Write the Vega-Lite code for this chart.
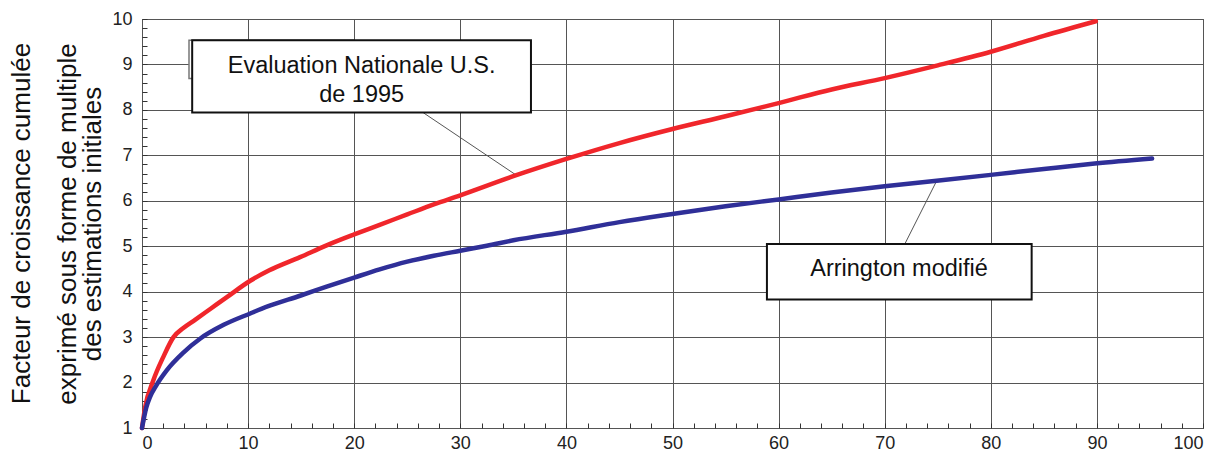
{
  "$schema": "https://vega.github.io/schema/vega-lite/v6.json",
  "width": 1061,
  "height": 409,
  "autosize": {"type": "none"},
  "padding": {"left": 142, "top": 19, "right": 18, "bottom": 22},
  "background": "white",
  "config": {
    "font": "Liberation Sans",
    "view": {"stroke": "#444", "strokeWidth": 1},
    "axis": {
      "labelFont": "Liberation Sans",
      "labelFontSize": 18,
      "labelColor": "#222",
      "labelOverlap": false,
      "titleFont": "Liberation Sans",
      "titleColor": "#111",
      "titleFontWeight": "normal",
      "domain": false,
      "gridColor": "#555",
      "gridWidth": 1,
      "ticks": true,
      "tickColor": "#333",
      "tickWidth": 1
    }
  },
  "title": {
    "text": "Facteur de croissance cumulée",
    "orient": "left",
    "anchor": "middle",
    "font": "Liberation Sans",
    "fontSize": 26,
    "fontWeight": "normal",
    "color": "#111",
    "offset": 20
  },
  "datasets": {
    "curves": [
      {"serie": "Evaluation Nationale U.S. de 1995", "annees": 0, "facteur": 1.0},
      {"serie": "Evaluation Nationale U.S. de 1995", "annees": 0.3, "facteur": 1.46},
      {"serie": "Evaluation Nationale U.S. de 1995", "annees": 1.07, "facteur": 2.05},
      {"serie": "Evaluation Nationale U.S. de 1995", "annees": 2.0, "facteur": 2.56},
      {"serie": "Evaluation Nationale U.S. de 1995", "annees": 2.97, "facteur": 3.0},
      {"serie": "Evaluation Nationale U.S. de 1995", "annees": 3.9, "facteur": 3.2},
      {"serie": "Evaluation Nationale U.S. de 1995", "annees": 5.0, "facteur": 3.38},
      {"serie": "Evaluation Nationale U.S. de 1995", "annees": 6.5, "facteur": 3.63},
      {"serie": "Evaluation Nationale U.S. de 1995", "annees": 8.0, "facteur": 3.88},
      {"serie": "Evaluation Nationale U.S. de 1995", "annees": 10.2, "facteur": 4.24},
      {"serie": "Evaluation Nationale U.S. de 1995", "annees": 12.0, "facteur": 4.47},
      {"serie": "Evaluation Nationale U.S. de 1995", "annees": 14.9, "facteur": 4.76},
      {"serie": "Evaluation Nationale U.S. de 1995", "annees": 17.4, "facteur": 5.02},
      {"serie": "Evaluation Nationale U.S. de 1995", "annees": 20.0, "facteur": 5.26},
      {"serie": "Evaluation Nationale U.S. de 1995", "annees": 22.4, "facteur": 5.47},
      {"serie": "Evaluation Nationale U.S. de 1995", "annees": 25.0, "facteur": 5.7},
      {"serie": "Evaluation Nationale U.S. de 1995", "annees": 27.5, "facteur": 5.92},
      {"serie": "Evaluation Nationale U.S. de 1995", "annees": 30.0, "facteur": 6.12},
      {"serie": "Evaluation Nationale U.S. de 1995", "annees": 35.0, "facteur": 6.54},
      {"serie": "Evaluation Nationale U.S. de 1995", "annees": 40.0, "facteur": 6.92},
      {"serie": "Evaluation Nationale U.S. de 1995", "annees": 45.0, "facteur": 7.27},
      {"serie": "Evaluation Nationale U.S. de 1995", "annees": 50.0, "facteur": 7.58},
      {"serie": "Evaluation Nationale U.S. de 1995", "annees": 55.0, "facteur": 7.86},
      {"serie": "Evaluation Nationale U.S. de 1995", "annees": 60.0, "facteur": 8.15},
      {"serie": "Evaluation Nationale U.S. de 1995", "annees": 65.0, "facteur": 8.45},
      {"serie": "Evaluation Nationale U.S. de 1995", "annees": 70.0, "facteur": 8.7},
      {"serie": "Evaluation Nationale U.S. de 1995", "annees": 75.0, "facteur": 8.98},
      {"serie": "Evaluation Nationale U.S. de 1995", "annees": 80.0, "facteur": 9.28},
      {"serie": "Evaluation Nationale U.S. de 1995", "annees": 85.0, "facteur": 9.63},
      {"serie": "Evaluation Nationale U.S. de 1995", "annees": 89.9, "facteur": 9.95},
      {"serie": "Arrington modifié", "annees": 0, "facteur": 1.0},
      {"serie": "Arrington modifié", "annees": 0.4, "facteur": 1.45},
      {"serie": "Arrington modifié", "annees": 0.75, "facteur": 1.68},
      {"serie": "Arrington modifié", "annees": 1.35, "facteur": 1.94},
      {"serie": "Arrington modifié", "annees": 2.33, "facteur": 2.27},
      {"serie": "Arrington modifié", "annees": 3.9, "facteur": 2.66},
      {"serie": "Arrington modifié", "annees": 5.5, "facteur": 2.97},
      {"serie": "Arrington modifié", "annees": 7.7, "facteur": 3.27},
      {"serie": "Arrington modifié", "annees": 10.2, "facteur": 3.52},
      {"serie": "Arrington modifié", "annees": 11.9, "facteur": 3.68},
      {"serie": "Arrington modifié", "annees": 14.9, "facteur": 3.91},
      {"serie": "Arrington modifié", "annees": 17.4, "facteur": 4.11},
      {"serie": "Arrington modifié", "annees": 20.0, "facteur": 4.31},
      {"serie": "Arrington modifié", "annees": 22.4, "facteur": 4.49},
      {"serie": "Arrington modifié", "annees": 25.0, "facteur": 4.66},
      {"serie": "Arrington modifié", "annees": 27.5, "facteur": 4.79},
      {"serie": "Arrington modifié", "annees": 30.0, "facteur": 4.9},
      {"serie": "Arrington modifié", "annees": 32.5, "facteur": 5.01},
      {"serie": "Arrington modifié", "annees": 35.0, "facteur": 5.13},
      {"serie": "Arrington modifié", "annees": 40.0, "facteur": 5.32},
      {"serie": "Arrington modifié", "annees": 45.0, "facteur": 5.53},
      {"serie": "Arrington modifié", "annees": 50.0, "facteur": 5.71},
      {"serie": "Arrington modifié", "annees": 55.0, "facteur": 5.88},
      {"serie": "Arrington modifié", "annees": 60.0, "facteur": 6.03},
      {"serie": "Arrington modifié", "annees": 65.0, "facteur": 6.18},
      {"serie": "Arrington modifié", "annees": 70.0, "facteur": 6.32},
      {"serie": "Arrington modifié", "annees": 74.9, "facteur": 6.44},
      {"serie": "Arrington modifié", "annees": 80.0, "facteur": 6.57},
      {"serie": "Arrington modifié", "annees": 85.0, "facteur": 6.7},
      {"serie": "Arrington modifié", "annees": 89.8, "facteur": 6.82},
      {"serie": "Arrington modifié", "annees": 95.2, "facteur": 6.93}
    ],
    "callouts": [
      {"texte": "Evaluation Nationale U.S.\nde 1995", "x0": 4.73, "x1": 36.66, "y0": 7.94, "y1": 9.53, "tx": 20.7, "ty": 8.96, "lx0": 26.5, "ly0": 7.94, "lx1": 35.3, "ly1": 6.56},
      {"texte": "Arrington modifié", "x0": 58.9, "x1": 83.85, "y0": 3.83, "y1": 5.05, "tx": 71.35, "ty": 4.5, "lx0": 71.9, "ly0": 5.05, "lx1": 74.9, "ly1": 6.44}
    ],
    "cadre_arriere": [
      {"x0": 4.43, "x1": 20, "y0": 8.69, "y1": 9.53}
    ]
  },
  "layer": [
    {
      "data": {"name": "callouts"},
      "mark": {"type": "rule", "color": "#555", "strokeWidth": 1},
      "encoding": {
        "x": {"field": "lx0", "type": "quantitative", "scale": {"domain": [0, 100], "nice": false}},
        "y": {"field": "ly0", "type": "quantitative", "scale": {"domain": [1, 10], "nice": false}},
        "x2": {"field": "lx1"},
        "y2": {"field": "ly1"}
      }
    },
    {
      "data": {"name": "curves"},
      "mark": {"type": "line", "strokeWidth": 4.5, "interpolate": "monotone", "strokeCap": "round"},
      "encoding": {
        "x": {
          "field": "annees",
          "type": "quantitative",
          "scale": {"domain": [0, 100], "nice": false},
          "axis": {
            "title": null,
            "tickCount": 200,
            "values": [0, 2, 4, 6, 8, 10, 12, 14, 16, 18, 20, 22, 24, 26, 28, 30, 32, 34, 36, 38, 40, 42, 44, 46, 48, 50, 52, 54, 56, 58, 60, 62, 64, 66, 68, 70, 72, 74, 76, 78, 80, 82, 84, 86, 88, 90, 92, 94, 96, 98, 100],
            "labelExpr": "datum.value % 10 === 0 ? format(datum.value, 'd') : ''",
            "grid": true,
            "gridOpacity": {"condition": {"test": "datum.value % 10 === 0", "value": 1}, "value": 0},
            "offset": -5,
            "tickSize": 5,
            "labelPadding": 6,
            "labelBaseline": "top"
          }
        },
        "y": {
          "field": "facteur",
          "type": "quantitative",
          "scale": {"domain": [1, 10], "nice": false},
          "axis": {
            "title": ["exprimé sous forme de multiple", "des estimations initiales"],
            "titleFontSize": 26,
            "titleLineHeight": 25,
            "titlePadding": 6,
            "tickCount": 200,
            "values": [1, 1.2, 1.4, 1.6, 1.8, 2, 2.2, 2.4, 2.6, 2.8, 3, 3.2, 3.4, 3.6, 3.8, 4, 4.2, 4.4, 4.6, 4.8, 5, 5.2, 5.4, 5.6, 5.8, 6, 6.2, 6.4, 6.6, 6.8, 7, 7.2, 7.4, 7.6, 7.8, 8, 8.2, 8.4, 8.6, 8.8, 9, 9.2, 9.4, 9.6, 9.8, 10],
            "labelExpr": "datum.value % 1 === 0 ? format(datum.value, 'd') : ''",
            "grid": true,
            "gridOpacity": {"condition": {"test": "datum.value % 1 === 0", "value": 1}, "value": 0},
            "offset": -5,
            "tickSize": 5,
            "labelPadding": 10
          }
        },
        "color": {
          "field": "serie",
          "type": "nominal",
          "scale": {"domain": ["Arrington modifié", "Evaluation Nationale U.S. de 1995"], "range": ["#2f2f98", "#f0262b"]},
          "legend": null
        }
      }
    },
    {
      "data": {"name": "cadre_arriere"},
      "mark": {"type": "rect", "fill": "white", "stroke": "#777", "strokeWidth": 1.5},
      "encoding": {
        "x": {"field": "x0", "type": "quantitative"},
        "x2": {"field": "x1"},
        "y": {"field": "y0", "type": "quantitative"},
        "y2": {"field": "y1"}
      }
    },
    {
      "data": {"name": "callouts"},
      "mark": {"type": "rect", "fill": "white", "stroke": "#111", "strokeWidth": 2},
      "encoding": {
        "x": {"field": "x0", "type": "quantitative"},
        "x2": {"field": "x1"},
        "y": {"field": "y0", "type": "quantitative"},
        "y2": {"field": "y1"}
      }
    },
    {
      "data": {"name": "callouts"},
      "mark": {"type": "text", "font": "Liberation Sans", "fontSize": 23.5, "color": "#111", "align": "center", "baseline": "middle", "lineBreak": "\n", "lineHeight": 28.3},
      "encoding": {
        "x": {"field": "tx", "type": "quantitative"},
        "y": {"field": "ty", "type": "quantitative"},
        "text": {"field": "texte"}
      }
    }
  ]
}
